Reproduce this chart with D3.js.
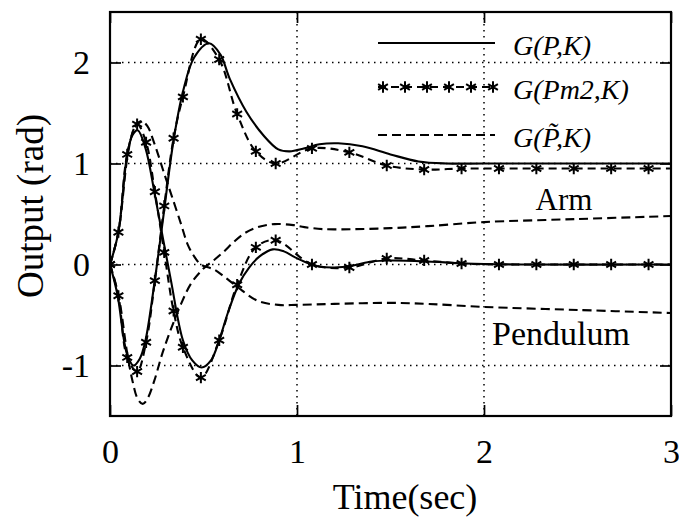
<!DOCTYPE html>
<html>
<head>
<meta charset="utf-8">
<script src="https://cdn.jsdelivr.net/npm/d3@7"></script>
<style>
  html, body { margin: 0; padding: 0; background: #fff; }
  svg { display: block; }
  text { font-family: "Liberation Serif", "Times New Roman", serif; fill: #000; }
</style>
</head>
<body>
<svg id="chart" width="679" height="519"></svg>
<script>
// ---------- data ----------
const xTicks = [0, 1, 2, 3];
const yTicks = [-1, 0, 1, 2];
const xTickLabels = ["0", "1", "2", "3"];
const yTickLabels = ["-1", "0", "1", "2"];

// G(P,K) — solid
const armPK_t = [0, 0.04, 0.09, 0.125, 0.16, 0.19, 0.24, 0.28, 0.34, 0.39, 0.45, 0.53, 0.59, 0.64, 0.73, 0.82, 0.90, 0.96, 1.04, 1.12, 1.22, 1.35, 1.5, 1.65, 1.8, 2.0, 2.5, 3.0];
const armPK_y = [0, -0.3, -0.88, -1.0, -0.93, -0.75, -0.15, 0.4, 1.23, 1.71, 2.05, 2.19, 2.08, 1.84, 1.51, 1.28, 1.14, 1.12, 1.15, 1.19, 1.2, 1.17, 1.09, 1.02, 1.0, 1.0, 1.0, 1.0];
const penPK_t = [0, 0.045, 0.092, 0.12, 0.148, 0.19, 0.24, 0.28, 0.326, 0.39, 0.44, 0.49, 0.54, 0.584, 0.63, 0.69, 0.744, 0.8, 0.87, 0.93, 0.99, 1.05, 1.12, 1.2, 1.3, 1.4, 1.5, 1.7, 1.9, 2.2, 3.0];
const penPK_y = [0, 0.32, 1.09, 1.28, 1.33, 1.15, 0.69, 0.29, -0.16, -0.75, -0.95, -1.02, -0.95, -0.75, -0.48, -0.19, -0.03, 0.08, 0.15, 0.13, 0.07, 0.02, -0.02, -0.03, -0.01, 0.03, 0.04, 0.03, 0.01, 0.0, 0.0];

// G(Pm2,K) — dashed with asterisks (markers at data points)
const pm2_t   = [0, 0.045, 0.092, 0.145, 0.193, 0.24, 0.29, 0.34, 0.39, 0.486, 0.584, 0.68, 0.78, 0.886, 1.08, 1.28, 1.48, 1.68, 1.88, 2.08, 2.28, 2.48, 2.68, 2.88, 3.0];
const armPm2_y = [0, -0.31, -0.92, -1.06, -0.77, -0.16, 0.58, 1.25, 1.66, 2.23, 2.03, 1.49, 1.12, 1.0, 1.15, 1.11, 0.98, 0.94, 0.95, 0.95, 0.95, 0.95, 0.95, 0.95, 0.95];
const penPm2_y = [0, 0.32, 1.09, 1.39, 1.21, 0.72, 0.12, -0.46, -0.82, -1.12, -0.75, -0.2, 0.17, 0.24, 0.0, -0.03, 0.06, 0.04, 0.01, 0.0, 0.0, 0.0, 0.0, 0.0, 0.0];

// G(P~,K) — dashed
const armPt_t = [0, 0.045, 0.092, 0.12, 0.148, 0.175, 0.2, 0.237, 0.28, 0.33, 0.38, 0.433, 0.5, 0.56, 0.61, 0.66, 0.72, 0.79, 0.88, 0.98, 1.04, 1.14, 1.3, 1.5, 1.7, 2.0, 2.5, 3.0];
const armPt_y = [0, -0.3, -0.88, -1.15, -1.33, -1.38, -1.33, -1.15, -0.88, -0.62, -0.39, -0.19, -0.04, 0.05, 0.13, 0.22, 0.31, 0.37, 0.4, 0.39, 0.37, 0.35, 0.35, 0.36, 0.38, 0.42, 0.45, 0.48];
const penPt_t = [0, 0.045, 0.092, 0.12, 0.148, 0.17, 0.2, 0.237, 0.29, 0.33, 0.38, 0.415, 0.45, 0.486, 0.557, 0.61, 0.68, 0.79, 0.9, 1.0, 1.2, 1.5, 1.7, 2.0, 2.5, 3.0];
const penPt_y = [0, 0.32, 1.05, 1.3, 1.4, 1.42, 1.37, 1.2, 0.9, 0.68, 0.4, 0.2, 0.08, 0.0, -0.05, -0.12, -0.22, -0.36, -0.4, -0.4, -0.39, -0.38, -0.39, -0.42, -0.45, -0.48];

const legendLabels = ["G(P,K)", "G(Pm2,K)", "G(P\u0303,K)"];
const curveLabels = ["Arm", "Pendulum"];
const xTitle = "Time(sec)";
const yTitle = "Output (rad)";

// ---------- layout ----------
const svg = d3.select("#chart");
const L = 110, R = 671, T = 12, B = 416;
const x = d3.scaleLinear().domain([0, 3]).range([L, R]);
const y = d3.scaleLinear().domain([-1.5, 2.5]).range([B, T]);

const zip = (ts, ys) => ts.map((t, i) => [t, ys[i]]);

svg.append("defs").append("clipPath").attr("id", "clip")
  .append("rect").attr("x", L).attr("y", T).attr("width", R - L).attr("height", B - T);

// grid (dotted)
const grid = svg.append("g").attr("stroke", "#000").attr("stroke-width", 1.5)
  .attr("stroke-dasharray", "1.5,4.5");
grid.selectAll(".gx").data(xTicks.filter(d => d > 0 && d < 3)).enter().append("line")
  .attr("x1", d => x(d)).attr("x2", d => x(d)).attr("y1", T).attr("y2", B);
grid.selectAll(".gy").data(yTicks).enter().append("line")
  .attr("y1", d => y(d)).attr("y2", d => y(d)).attr("x1", L).attr("x2", R);

// axes with inward ticks
const tickLen = 11;
const axB = d3.axisBottom(x).tickValues(xTicks).tickSize(-tickLen).tickFormat((d, i) => xTickLabels[i]).tickPadding(tickLen + 12);
const axT = d3.axisTop(x).tickValues(xTicks).tickSize(-tickLen).tickFormat("");
const axL = d3.axisLeft(y).tickValues(yTicks).tickSize(-tickLen).tickFormat((d, i) => yTickLabels[i]).tickPadding(tickLen + 9);
const axR = d3.axisRight(y).tickValues(yTicks).tickSize(-tickLen).tickFormat("");

function styleAxis(g) {
  g.select(".domain").remove();
  g.selectAll(".tick line").attr("stroke", "#000").attr("stroke-width", 1.7);
  g.selectAll(".tick text").attr("font-family", "Liberation Serif, Times New Roman, serif")
    .attr("font-size", 34).attr("fill", "#000");
}
svg.append("g").attr("transform", `translate(0,${B})`).call(axB).call(styleAxis);
svg.append("g").attr("transform", `translate(0,${T})`).call(axT).call(styleAxis);
svg.append("g").attr("transform", `translate(${L},0)`).call(axL).call(styleAxis);
svg.append("g").attr("transform", `translate(${R},0)`).call(axR).call(styleAxis);

// frame
svg.append("rect").attr("x", L).attr("y", T).attr("width", R - L).attr("height", B - T)
  .attr("fill", "none").attr("stroke", "#000").attr("stroke-width", 2.2);

// curves
const line = d3.line().x(d => x(d[0])).y(d => y(d[1])).curve(d3.curveCatmullRom.alpha(0.5));
const plot = svg.append("g").attr("clip-path", "url(#clip)");

const series = [
  { data: zip(armPK_t, armPK_y), dash: null },
  { data: zip(penPK_t, penPK_y), dash: null },
  { data: zip(armPt_t, armPt_y), dash: "9,5" },
  { data: zip(penPt_t, penPt_y), dash: "9,5" },
  { data: zip(pm2_t, armPm2_y), dash: "8,5", stars: true },
  { data: zip(pm2_t, penPm2_y), dash: "8,5", stars: true }
];

const star = d3.symbol().type(d3.symbolAsterisk).size(90);

series.forEach(s => {
  plot.append("path").datum(s.data).attr("d", line)
    .attr("fill", "none").attr("stroke", "#000").attr("stroke-width", 2.1)
    .attr("stroke-dasharray", s.dash);
  if (s.stars) {
    plot.selectAll(null).data(s.data.filter(d => d[0] < 2.95)).enter().append("path")
      .attr("d", star).attr("transform", d => `translate(${x(d[0])},${y(d[1])})`)
      .attr("fill", "none").attr("stroke", "#000").attr("stroke-width", 2);
  }
});

// legend (no box)
const lg = svg.append("g");
const lgX1 = 378, lgX2 = 495, lgRows = [43, 87, 135], lgDash = [null, "8,5", "9,5"];
lgRows.forEach((ly, i) => {
  lg.append("line").attr("x1", lgX1).attr("x2", lgX2).attr("y1", ly).attr("y2", ly)
    .attr("stroke", "#000").attr("stroke-width", 2.1).attr("stroke-dasharray", lgDash[i]);
  lg.append("text").attr("x", 513).attr("y", ly + 12)
    .attr("font-size", 28).attr("font-style", "italic").text(legendLabels[i]);
});
d3.range(6).forEach(k => {
  lg.append("path").attr("d", star)
    .attr("transform", `translate(${lgX1 + 5 + k * 22},${lgRows[1]})`)
    .attr("fill", "none").attr("stroke", "#000").attr("stroke-width", 2);
});

// curve labels
svg.append("text").attr("x", 564).attr("y", 210).attr("text-anchor", "middle")
  .attr("font-size", 31).text(curveLabels[0]);
svg.append("text").attr("x", 492).attr("y", 345)
  .attr("font-size", 34).text(curveLabels[1]);

// axis titles
svg.append("text").attr("x", 405).attr("y", 509).attr("text-anchor", "middle")
  .attr("font-size", 36).text(xTitle);
svg.append("text").attr("transform", `translate(43,${(T + B) / 2 - 8}) rotate(-90)`)
  .attr("text-anchor", "middle").attr("font-size", 37).text(yTitle);
</script>
</body>
</html>
